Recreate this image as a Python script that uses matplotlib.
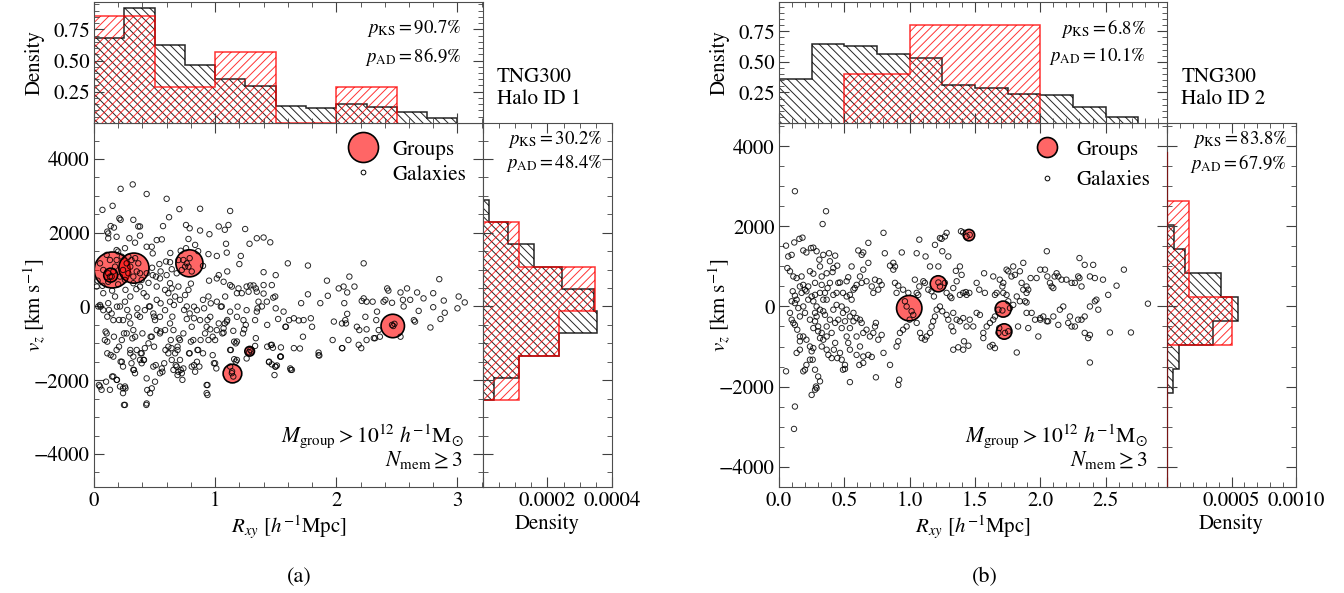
import numpy as np
import matplotlib
matplotlib.use('Agg')
import matplotlib.pyplot as plt
from matplotlib.ticker import MultipleLocator
from matplotlib.lines import Line2D

plt.rcParams['font.family'] = ['STIXGeneral', 'DejaVu Serif']
plt.rcParams['mathtext.fontset'] = 'stix'
plt.rcParams['hatch.linewidth'] = 0.7

# ---------------- panel (a): TNG300 halo 1 ----------------
gal_a = [
    (0.22, 3190), (0.32, 3310), (0.435, 3050), (0.60, 2920), (0.07, 2620), (0.154, 2730), (0.705, 2640), (0.876, 2650), (1.124, 2590), (0.62, 2420),
    (0.21, 2390), (0.22, 2350), (0.325, 2350), (0.366, 2170), (0.38, 2170), (0.57, 2180), (0.76, 2210), (0.79, 2120), (1.03, 2170), (1.08, 2080),
    (1.11, 2210), (0.876, 2060), (0.953, 1960), (1.248, 2100), (0.11, 2030), (0.118, 1980), (0.138, 2180), (0.165, 2140), (0.187, 1890), (0.38, 1920),
    (0.518, 1800), (0.56, 1820), (0.292, 1850), (0.339, 1730), (0.435, 1620), (0.477, 1620), (0.485, 1440), (0.256, 1580), (0.187, 1530), (0.118, 1850),
    (0.78, 1830), (0.835, 1670), (0.76, 1580), (0.716, 1510), (1.09, 1700), (1.096, 1460), (1.212, 1370), (1.284, 1700), (1.344, 1850), (1.40, 1870),
    (1.455, 1740), (0.945, 1420), (1.014, 1370), (1.40, 930), (1.50, 850), (1.60, 1170), (1.766, 1110), (2.226, 1170), (1.923, 700), (2.108, 810),
    (0.628, 1200), (0.697, 1260), (0.595, 1220), (0.54, 1150), (0.642, 1010), (0.683, 900), (0.545, 760), (0.60, 850), (0.628, 630), (0.512, 810),
    (0.485, 850), (0.435, 900), (1.03, 850), (1.014, 760), (1.07, 670), (1.124, 580), (1.193, 490), (1.26, 540), (1.29, 570), (1.317, 570),
    (1.336, 490), (1.40, 580), (1.468, 580), (1.48, 240), (1.358, 130), (1.496, 270), (1.71, 90), (1.766, 330), (1.868, 90), (1.93, 290),
    (2.02, 490), (2.06, 540), (2.09, 380), (2.15, 540), (2.226, 220), (2.25, 130), (2.30, 130), (2.42, 490), (2.43, 430), (2.405, 180),
    (2.53, 380), (2.584, 490), (2.667, 380), (2.72, 220), (2.80, 360), (2.85, 740), (2.887, 160), (3.01, 270), (3.06, 110), (3.00, -50),
    (2.895, -170), (2.86, -340), (2.80, -20), (2.777, -570), (2.68, -120), (2.64, -370), (2.61, 180), (2.556, 0), (2.55, 180), (2.46, 100),
    (2.39, 130), (2.336, -140), (2.33, -370), (2.35, -640), (2.31, -860), (2.25, -910), (2.25, -620), (2.19, -640), (2.17, -550), (2.185, -1040),
    (2.206, -1130), (2.24, -280), (2.21, 150), (2.09, -200), (2.074, -370), (2.066, 90), (2.08, -460), (2.047, -460), (1.98, -410), (1.97, -910),
    (2.05, -1130), (1.854, -1250), (1.86, -1330), (1.79, -320), (1.80, -550), (1.725, -820), (1.73, -370), (1.69, -380), (1.65, -320), (1.61, -370),
    (1.58, -550), (1.52, -340), (1.565, -140), (1.65, -1130), (1.70, -1140), (1.634, -1720), (1.543, -1110), (1.468, -1040), (1.477, -1120), (1.444, -1510),
    (1.49, -1860), (1.51, -1600), (1.543, -1360), (1.336, -860), (1.33, -1070), (1.30, -1220), (1.29, -1180), (1.24, -620), (1.23, -730), (1.18, -950),
    (1.17, -1000), (1.15, -660), (1.124, -1180), (1.157, -1430), (1.124, -1630), (1.138, -1810), (1.15, -1900), (1.096, -410), (1.08, -460), (1.07, -590),
    (1.07, -710), (1.03, -460), (1.014, -640), (1.00, -910), (0.96, -620), (0.93, -550), (0.917, -730), (0.945, -910), (0.90, -1270), (0.86, -1180),
    (0.87, -1630), (0.85, -1500), (0.807, -1630), (0.79, -1270), (0.82, -910), (0.807, -550), (0.766, -340), (0.738, -730), (0.71, -910), (0.69, -1180),
    (0.67, -1270), (0.64, -1130), (0.683, -1630), (0.697, -1770), (0.725, -1810), (0.656, -1720), (0.614, -1090), (0.587, -640), (0.545, -730), (0.518, -640),
    (0.477, -820), (0.45, -1000), (0.42, -1130), (0.394, -1270), (0.38, -1450), (0.353, -1180), (0.325, -1360), (0.30, -1270), (0.31, -1540), (0.24, -1630),
    (0.23, -1500), (0.187, -1180), (0.16, -1360), (0.11, -1270), (0.09, -910), (0.105, -730), (0.16, -370), (0.146, -190), (0.077, -100), (0.05, 40),
    (0.036, 0), (0.118, 90), (0.174, 270), (0.215, 0), (0.256, 130), (0.30, 270), (0.24, -370), (0.30, -460), (0.27, -730), (0.23, -910),
    (0.325, -640), (0.34, -820), (0.38, -280), (0.42, -100), (0.463, 0), (0.49, -190), (0.504, -370), (0.545, -280), (0.587, -100), (0.628, 130),
    (0.67, 270), (0.71, 180), (0.752, 310), (0.78, 450), (0.766, 0), (0.79, -190), (0.85, -100), (0.90, 180), (0.945, 270), (1.014, 130),
    (1.055, 0), (1.083, 270), (1.138, 540), (1.18, 360), (1.22, 360), (1.276, 400), (1.344, 400), (1.40, 350), (1.427, 130), (1.386, 0),
    (1.344, -140), (1.33, -370), (1.234, -370), (1.18, -280), (1.124, -140), (1.26, -100), (0.96, -280), (0.876, -370), (0.628, -460), (0.656, -640),
    (0.518, 180), (0.435, 270), (0.41, 360), (0.38, 540), (0.325, 630), (0.518, 540), (0.587, 450), (0.642, 490), (0.697, 540), (0.614, 360),
    (0.077, 360), (0.022, 540), (0.118, 670), (0.146, 810), (0.05, -2170), (0.063, -2260), (0.10, -2040), (0.132, -2260), (0.16, -1900), (0.187, -1990),
    (0.215, -2170), (0.24, -2220), (0.256, -2170), (0.24, -2350), (0.256, -2670), (0.435, -2630), (0.463, -2350), (0.477, -2220), (0.504, -2040), (0.435, -1950),
    (0.339, -1810), (0.325, -1720), (0.41, -1450), (0.394, -1540), (0.49, -1630), (0.545, -1810), (0.56, -1680), (0.614, -1270), (0.642, -1450), (0.71, -1450),
    (0.738, -1680), (0.835, -1770), (0.93, -2130), (0.93, -2350), (1.01, -1680), (1.00, -1540), (1.18, -1450), (1.26, -1410), (1.468, -1570), (1.496, -1630),
    (1.537, -1360), (1.62, -1680), (1.854, -1320), (2.047, -1130), (2.10, -910), (2.32, -860), (2.36, -820), (2.46, -500), (2.53, -820), (2.65, -410),
    (0.05, 1170), (0.077, 990), (0.118, 900), (0.132, 810), (0.16, 950), (0.174, 1080), (0.215, 810), (0.24, 990), (0.27, 1170), (0.284, 900),
    (0.30, 1080), (0.31, 1260), (0.325, 810), (0.353, 950), (0.366, 1170), (0.38, 900), (0.394, 720), (0.256, 720), (0.187, 1260), (0.132, 1260),
    (0.105, 1400), (0.20, 1490), (0.23, 1350), (0.284, 1350), (0.34, 1310),
    (0.738, 1260), (0.766, 1170), (0.79, 1310), (0.78, 1080), (0.752, 1080), (0.807, 950), (0.725, 990),
    (2.47, -530), (2.48, -470), (1.14, -1760), (1.28, -1240),
    (0.055, -5), (0.124, -95), (0.19, -5), (0.275, -95), (0.358, -50), (0.455, 0), (0.55, 85), (0.66, 40), (0.744, -95), (0.826, -5),
    (0.909, -50), (0.964, 85), (1.047, -5), (1.185, -5), (1.35, -50), (1.50, -50), (0.11, -276), (0.207, -366), (0.289, -276), (0.358, -230),
    (0.496, -276), (0.647, -276), (0.826, -320), (0.937, -366), (1.10, -366), (1.253, -500), (1.43, -500), (1.584, -550), (0.096, -680), (0.165, -820),
    (0.248, -730), (0.317, -864), (0.40, -730), (0.468, -820), (0.55, -680), (0.634, -910), (0.70, -864), (0.80, -954), (0.88, -910), (0.98, -820),
    (1.06, -730), (1.157, -954), (0.11, -954), (0.207, -1090), (0.30, -1180), (0.386, -1270), (0.496, -1090), (0.59, -1180), (0.69, -1090), (0.785, -1270),
    (0.854, -1180), (0.98, -1320), (1.13, -1180), (1.43, -1090), (1.46, -1044), (1.54, -1360), (0.138, -1316), (0.22, -1496), (0.33, -1720), (0.413, -1450),
    (0.51, -1590), (0.58, -1540), (0.675, -1590), (0.716, -1720), (0.826, -1590), (0.99, -1540), (1.17, -1496), (1.446, -1496), (1.50, -1630), (1.625, -1720),
    (0.041, -2130), (0.15, -1900), (0.19, -1990), (0.26, -2220), (0.44, -2265), (0.565, -1770), (0.69, -1860), (0.73, -1990), (0.937, -2130), (0.937, -2400),
    (0.248, -2670), (0.432, -2670),
    (0.03, 700), (0.07, 560), (0.2, 600), (0.45, 640), (0.55, 950), (0.9, 1100), (0.95, 700), (1.1, 950), (0.8, 620), (0.35, 470),
    (0.48, 1050), (0.63, 1450), (0.86, 1500), (1.2, 1150), (0.15, 430), (0.26, 450),
]
grp_a_x = [0.151, 0.33, 0.138, 0.788, 1.143, 1.285, 2.466]
grp_a_y = [990, 1040, 850, 1170, -1820, -1215, -529]
grp_a_s = [670, 470, 100, 380, 180, 48, 285]

# histograms (densities)
top_a_edges = [0, 0.25, 0.5, 0.75, 1.0, 1.25, 1.5, 1.75, 2.0, 2.25, 2.5, 2.75, 3.0]
top_a_gal = [0.68, 0.92, 0.627, 0.463, 0.349, 0.296, 0.132, 0.116, 0.151, 0.127, 0.09, 0.042]
top_a_grp_edges = [0, 0.5, 1.0, 1.5, 2.0, 2.5]
top_a_grp = [0.857, 0.286, 0.571, 0.0, 0.286]
side_a_edges = [-2540, -1937, -1334, -731, -128, 475, 1078, 1681, 2284, 2887]
side_a_gal = [0.000035, 0.000112, 0.000236, 0.000355, 0.000344, 0.000246, 0.000159, 0.0000763, 0.0000196]
side_a_grp_edges = [-2540, -1334, -128, 1078, 2284]
side_a_grp = [0.000112, 0.000236, 0.000349, 0.000112]

# ---------------- panel (b): TNG300 halo 2 ----------------
gal_b = [
    (0.122, 2880), (0.36, 2380), (0.334, 2060), (0.054, 1520), (0.117, 1600), (0.156, 1690), (0.18, 1720), (0.071, 1250), (0.097, 1290), (0.186, 1400),
    (0.21, 1350), (0.245, 1460), (0.263, 1470), (0.288, 1380), (0.309, 1170), (0.339, 1290), (0.383, 1330), (0.43, 1270), (0.39, 1130), (0.416, 960),
    (0.446, 1020), (0.41, 860), (0.365, 830), (0.327, 750), (0.314, 1000), (0.263, 820), (0.237, 880), (0.064, 960), (0.084, 880), (0.11, 750),
    (0.135, 710), (0.173, 750), (0.16, 500), (0.186, 540), (0.199, 420), (0.21, 380), (0.224, 500), (0.105, 380), (0.122, 270), (0.135, 170),
    (0.173, 340), (0.276, 590), (0.327, 540), (0.352, 340), (0.372, 460), (0.39, 590), (0.454, 590), (0.467, 600), (0.518, 630), (0.53, 730),
    (0.556, 1000), (0.607, 1400), (0.645, 1350), (0.684, 1590), (0.633, 1290), (0.645, 920), (0.684, 1090), (0.62, 750), (0.594, 540), (0.58, 460),
    (0.633, 590), (0.67, 630), (0.71, 500), (0.735, 670), (0.768, 630), (0.786, 540), (0.76, 420), (0.722, 340), (0.80, 1840), (0.81, 1330),
    (0.85, 1020), (0.875, 1090), (0.888, 1000), (0.94, 1350), (0.875, 920), (0.888, 590), (0.913, 520), (0.90, 340), (0.95, 420), (0.99, 340),
    (1.04, 670), (1.054, 340), (1.066, 290), (1.074, 500), (1.105, 630), (1.117, 590), (1.143, 420), (1.168, 380), (1.186, 250), (1.074, 1670),
    (1.122, 1250), (1.054, 1330), (1.156, 1000), (1.194, 1540), (1.22, 1000), (1.232, 1710), (1.245, 1690), (1.27, 1750), (1.25, 1380), (1.296, 1250),
    (1.283, 1840), (1.354, 890), (1.385, 1000), (1.398, 790), (1.393, 1880), (1.41, 1850), (1.46, 1790), (1.436, 1750), (1.43, 360), (1.457, 340),
    (1.283, 340), (1.31, 250), (1.32, 210), (1.334, 460), (1.27, 590), (1.232, 500), (1.36, 630), (1.385, 290), (1.41, 340), (1.436, 290),
    (1.513, 590), (1.533, 420), (1.57, 830), (1.576, 340), (1.64, 750), (1.653, 290), (1.666, 340), (1.69, 670), (1.717, 590), (1.742, 920),
    (1.755, 880), (1.78, 750), (1.793, 1000), (1.806, 790), (1.844, 880), (1.87, 1090), (1.895, 500), (1.908, 420), (1.87, 420), (1.857, 590),
    (1.895, 340), (1.926, 710), (1.972, 710), (2.0, 920), (2.036, 920), (2.05, 1380), (2.054, 750), (2.074, 590), (2.087, 500), (2.10, 460),
    (2.11, 750), (2.125, 830), (2.138, 750), (2.163, 670), (2.20, 670), (2.24, 590), (2.265, 590), (2.29, 750), (2.30, 710), (2.316, 500),
    (2.30, 1210), (2.34, 1040), (2.38, 750), (2.405, 1040), (2.418, 710), (2.48, 670), (2.52, 290), (2.584, 520), (2.64, 920), (2.824, 70),
    (2.694, -650), (2.533, -650), (2.444, -80), (2.418, 130), (2.43, 170), (2.38, 0), (2.34, -250), (2.316, -330), (2.29, -330), (2.265, -500),
    (2.24, -500), (2.214, -410), (2.227, -250), (2.176, 0), (2.15, -80), (2.138, -460), (2.10, -250), (2.06, -370), (2.05, -370), (2.023, -250),
    (2.0, -290), (1.985, -750), (1.96, -330), (1.934, -160), (1.895, -160), (1.883, 130), (1.895, 100), (1.844, 130), (1.82, 250), (1.793, 40),
    (1.755, 130), (1.768, -40), (1.742, 290), (1.717, 340), (1.71, 500), (1.68, -80), (1.653, -250), (1.64, -330), (1.615, -410), (1.59, -500),
    (1.564, -660), (1.538, -210), (1.513, -160), (1.487, -500), (1.46, -330), (1.436, -500), (1.41, -290), (1.385, -370), (1.36, -330), (1.334, -160),
    (1.32, -500), (1.334, -620), (1.334, -1080), (1.372, -1020), (1.41, -1080), (1.416, -870), (1.45, -980), (1.564, -790), (1.615, -1000), (1.653, -1040),
    (1.635, -960), (1.68, -660), (1.686, -540), (1.73, -660), (1.755, -620), (1.82, -1150), (1.83, -500), (1.908, -540), (2.0, -330), (2.38, -1400),
    (2.34, -660), (2.38, -710), (2.367, -790), (1.296, -330), (1.283, -210), (1.25, -120), (1.232, 0), (1.207, -80), (1.194, -250), (1.18, -370),
    (1.168, -500), (1.156, -660), (1.13, -750), (1.117, -830), (1.092, -790), (1.08, -660), (1.054, -410), (1.028, -210), (1.0, -330), (0.977, -500),
    (0.95, -580), (0.926, -660), (0.913, -870), (0.90, -1000), (0.92, -1830), (0.913, -1960), (0.85, -1460), (0.80, -1160), (0.786, -710), (0.76, -830),
    (0.742, -410), (0.735, -500), (0.722, -660), (0.696, -750), (0.67, -580), (0.645, -660), (0.633, -410), (0.62, -330), (0.594, -290), (0.57, -160),
    (0.543, -250), (0.518, -80), (0.49, -160), (0.48, 0), (0.441, 40), (0.416, -80), (0.39, -330), (0.365, -500), (0.352, -210), (0.339, -120),
    (0.314, -80), (0.288, 0), (0.263, 130), (0.276, -160), (0.288, -250), (0.276, -370), (0.30, -500), (0.327, -660), (0.339, -830), (0.365, -1080),
    (0.378, -1210), (0.403, -1290), (0.446, -1290), (0.467, -1160), (0.48, -1330), (0.505, -1460), (0.518, -750), (0.53, -910), (0.543, -1080), (0.594, -1210),
    (0.615, -1460), (0.645, -1410), (0.645, -1250), (0.684, -1210), (0.71, -1260), (0.742, -1770), (0.543, -1890), (0.505, -1560), (0.49, -1580), (0.43, -910),
    (0.42, -1080), (0.263, -1040), (0.25, -1120), (0.237, -1330), (0.21, -1460), (0.199, -1580), (0.186, -1620), (0.276, -1580), (0.30, -1750), (0.288, -2040),
    (0.283, -2000), (0.276, -2080), (0.314, -1870), (0.25, -2210), (0.237, -1000), (0.21, -830), (0.186, -750), (0.16, -750), (0.14, -580), (0.11, -410),
    (0.122, -460), (0.097, -330), (0.084, -160), (0.054, -1620), (0.122, -2500), (0.16, -1080), (0.16, -870), (0.135, -1160), (0.258, -1330), (0.16, -250),
    (0.186, 0), (0.224, 170), (0.097, 130), (0.122, 85), (0.148, -40), (0.199, -160), (0.237, -330), (0.263, -540), (0.30, -620), (0.314, -790),
    (0.327, -1000), (0.365, -750), (0.403, -660), (0.43, -410), (0.454, -330), (0.48, -540), (0.505, -370), (0.543, -540), (0.57, -370), (0.594, -750),
    (0.62, -1000), (0.556, 170), (0.543, 290), (0.57, 420), (0.49, 340), (0.518, 250), (0.441, 340), (0.416, 290), (0.365, 170), (0.339, 170),
    (0.314, 340), (0.276, 290), (0.25, 250), (0.115, -3060), (0.977, 0), (1.015, -120), (0.964, 130), (1.22, 600), (1.71, -100),
]
grp_b_x = [0.997, 1.219, 1.454, 1.716, 1.724]
grp_b_y = [-42, 567, 1783, -65, -625]
grp_b_s = [334, 133, 67, 133, 122]

top_b_edges = [0, 0.25, 0.5, 0.75, 1.0, 1.25, 1.5, 1.75, 2.0, 2.25, 2.5, 2.75]
top_b_gal = [0.364, 0.644, 0.63, 0.565, 0.53, 0.31, 0.29, 0.236, 0.231, 0.13, 0.046]
top_b_grp_edges = [0.5, 1.0, 1.5, 2.0]
top_b_grp = [0.4, 0.8, 0.8]
side_b_edges = [-2160, -1560, -960, -360, 240, 840, 1440, 2040]
side_b_gal = [0.000047, 0.000091, 0.000357, 0.000547, 0.000422, 0.000143, 0.000052]
side_b_grp_edges = [-960, 240, 1440, 2640]
side_b_grp = [0.000503, 0.000169, 0.000169]

grp_face = (1, 0, 0, 0.6)
gal_edge = (0, 0, 0, 0.85)
grp_hist = (1, 0, 0, 0.8)

TICK = 15
LABEL = 15
LEG = 15.2
PTXT = 13.5
MTXT = 15.5


def style(ax):
    ax.tick_params(which='both', direction='in', top=True, right=True, color='0.25', labelsize=TICK)
    ax.tick_params(which='major', length=7, width=0.8, pad=3)
    ax.tick_params(which='minor', length=3.5, width=0.6)
    for s in ax.spines.values():
        s.set_color('0.3')


def panel(x0, w, gal, gx, gy, gs, tops, sides, xlim, ylim, topylim, xmaj, xmin,
          side_ticks, side_labels, side_minor, ptop, pside, halo, leg_ms, leg_sp, tag, tag_x):
    ax = fig.add_axes([x0, 0.1788, w, 0.6138])
    axt = fig.add_axes([x0, 0.7926, w, 0.2040], sharex=ax)
    axr = fig.add_axes([x0 + w, 0.1788, 0.0960, 0.6138], sharey=ax)

    gal = np.array(gal)
    ax.scatter(gx, gy, s=gs, facecolor=grp_face, edgecolor='k', linewidth=1.2, zorder=2)
    ax.scatter(gal[:, 0], gal[:, 1], s=15, facecolor='none', edgecolor=gal_edge, linewidth=0.7, zorder=3)
    ax.set_xlim(*xlim)
    ax.set_ylim(*ylim)
    ax.xaxis.set_major_locator(MultipleLocator(xmaj))
    ax.xaxis.set_minor_locator(MultipleLocator(xmin))
    ax.yaxis.set_major_locator(MultipleLocator(2000))
    ax.yaxis.set_minor_locator(MultipleLocator(500))
    if xmaj == 0.5:
        ax.xaxis.set_major_formatter(lambda v, p: f'{v:.1f}')
    ax.set_xlabel(r'$R_{xy}$ [$h^{-1}$Mpc]', fontsize=LABEL, labelpad=2)
    ax.set_ylabel(r'$v_z$ [km s$^{-1}$]', fontsize=LABEL)
    ax.yaxis.set_label_coords(-0.118, 0.5)
    style(ax)

    handles = [Line2D([], [], ls='', marker='o', markersize=leg_ms, markerfacecolor=grp_face, markeredgecolor='k', markeredgewidth=1.2),
               Line2D([], [], ls='', marker='o', markersize=3.4, markerfacecolor='none', markeredgecolor='k', markeredgewidth=0.7)]
    ax.legend(handles, ['Groups', 'Galaxies'], loc='upper right', frameon=False, fontsize=LEG,
              handlelength=1.6, handletextpad=0.6, labelspacing=leg_sp, borderaxespad=0.4)
    ax.text(0.95, 0.14, r'$M_{\rm group} > 10^{12}\ h^{-1}{\rm M}_{\odot}$', transform=ax.transAxes,
            ha='right', va='center', fontsize=MTXT)
    ax.text(0.95, 0.074, r'$N_{\rm mem} \geq 3$', transform=ax.transAxes, ha='right', va='center', fontsize=MTXT)

    # top histogram of R_xy
    e1, v1, e2, v2 = tops
    axt.stairs(v1, e1, fill=True, facecolor='none', edgecolor='k', hatch='\\\\\\\\', linewidth=1.1, alpha=0.85)
    axt.stairs(v2, e2, fill=True, facecolor='none', edgecolor=grp_hist, hatch='////', linewidth=1.1)
    axt.set_ylim(*topylim)
    axt.set_yticks([0.25, 0.5, 0.75])
    axt.yaxis.set_minor_locator(MultipleLocator(0.05))
    axt.set_ylabel('Density', fontsize=LABEL)
    axt.yaxis.set_label_coords(-0.126, 0.5)
    axt.tick_params(labelbottom=False)
    style(axt)
    axt.text(0.945, 0.78, r'$p_{\rm KS} = %s$' % ptop[0], transform=axt.transAxes, ha='right', va='center', fontsize=PTXT)
    axt.text(0.945, 0.55, r'$p_{\rm AD} = %s$' % ptop[1], transform=axt.transAxes, ha='right', va='center', fontsize=PTXT)

    # side histogram of v_z
    e1, v1, e2, v2 = sides
    axr.stairs(v1, e1, orientation='horizontal', fill=True, facecolor='none', edgecolor='k',
               hatch='\\\\\\\\', linewidth=1.1, alpha=0.85)
    axr.stairs(v2, e2, orientation='horizontal', fill=True, facecolor='none', edgecolor=grp_hist,
               hatch='////', linewidth=1.1)
    axr.set_xlim(0, side_ticks[-1])
    axr.set_xticks(side_ticks)
    axr.set_xticklabels(side_labels)
    axr.xaxis.set_minor_locator(MultipleLocator(side_minor))
    axr.set_xlabel('Density', fontsize=LABEL, labelpad=2)
    axr.tick_params(labelleft=False)
    style(axr)
    axr.text(0.93, 0.956, r'$p_{\rm KS} = %s$' % pside[0], transform=axr.transAxes, ha='right', va='center', fontsize=PTXT)
    axr.text(0.93, 0.89, r'$p_{\rm AD} = %s$' % pside[1], transform=axr.transAxes, ha='right', va='center', fontsize=PTXT)

    fig.text(x0 + w + 0.0105, 0.852, 'TNG300\nHalo ID %d' % halo, ha='left', va='center', fontsize=15.2, linespacing=1.15)
    fig.text(tag_x, 0.027, tag, ha='center', va='center', fontsize=16)
    return ax, axt, axr


fig = plt.figure(figsize=(13.44, 5.93), dpi=100)

panel(0.0699, 0.2894, gal_a, grp_a_x, grp_a_y, grp_a_s,
      (top_a_edges, top_a_gal, top_a_grp_edges, top_a_grp),
      (side_a_edges, side_a_gal, side_a_grp_edges, side_a_grp),
      (0, 3.21), (-4895, 4976), (0, 0.968), 1, 0.2,
      [0, 0.0002, 0.0004], ['', '0.0002', '0.0004'], 0.00005,
      (r'90.7\%', r'86.9\%'), (r'30.2\%', r'48.4\%'), 1, 21.6, 0.25, '(a)', 0.223)

ax_b, axt_b, axr_b = panel(0.5796, 0.2887, gal_b, grp_b_x, grp_b_y, grp_b_s,
                           (top_b_edges, top_b_gal, top_b_grp_edges, top_b_grp),
                           (side_b_edges, side_b_gal, side_b_grp_edges, side_b_grp),
                           (0, 2.97), (-4510, 4585), (0, 0.99), 0.5, 0.1,
                           [0, 0.0005, 0.0010], ['', '0.0005', '0.0010'], 0.0001,
                           (r'6.8\%', r'10.1\%'), (r'83.8\%', r'67.9\%'), 2, 14.4, 0.5, '(b)', 0.733)
# dark red line along the zero of the side histogram in (b)
axr_b.axvline(0, ymax=0.917, color='#7a1414', linewidth=1.6, zorder=5)

fig.savefig('out.png', dpi=100)
